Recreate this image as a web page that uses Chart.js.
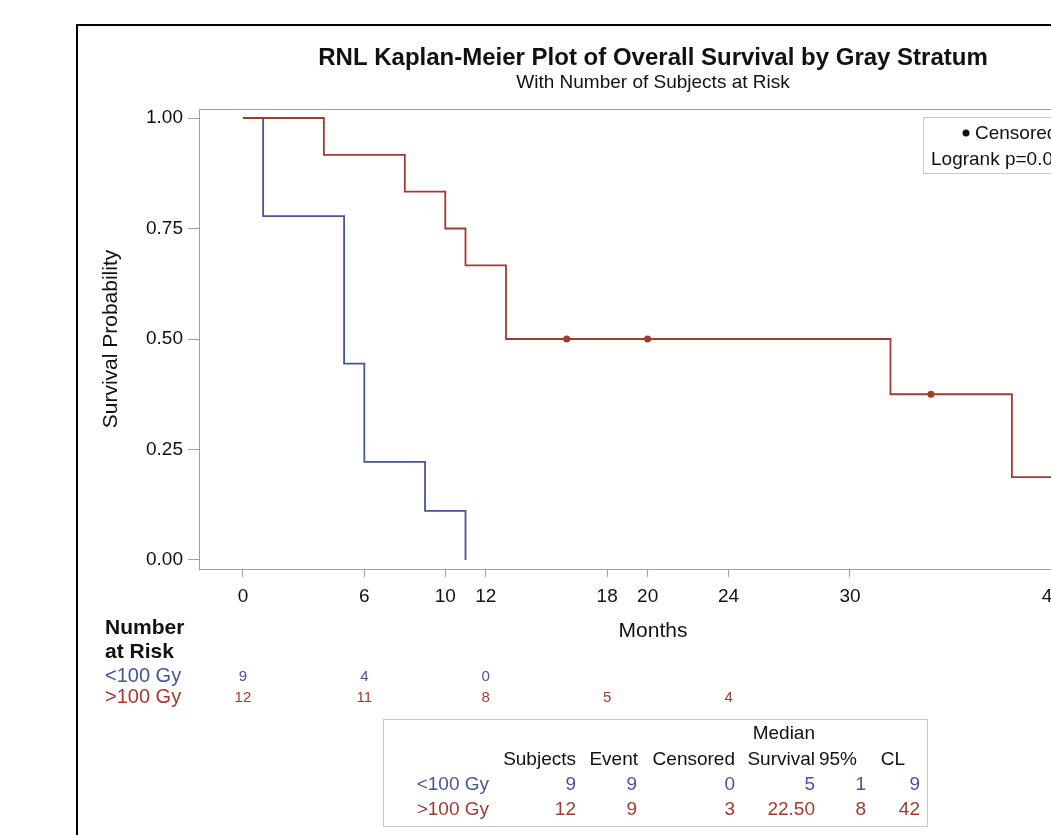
<!DOCTYPE html>
<html><head><meta charset="utf-8">
<script src="https://cdn.jsdelivr.net/npm/chart.js@4.4.0/dist/chart.umd.min.js"></script>
<style>
html,body{margin:0;padding:0;background:#fff;overflow:hidden;width:1051px;height:835px;}
#wrap{position:absolute;left:0;top:0;width:1240px;height:835px;}
</style></head><body>
<div id="wrap"><canvas id="c" width="1240" height="835"></canvas></div>
<script>
// ---- data ----
const groups = ['<100 Gy', '>100 Gy'];
const lowTimes = [0, 1, 5, 6, 9, 11];
const lowSurv = [1, 0.7778, 0.4444, 0.2222, 0.1111, 0];
const highTimes = [0, 4, 8, 10, 11, 13, 32, 38, 42];
const highSurv = [1, 0.9167, 0.8333, 0.75, 0.6667, 0.5, 0.375, 0.1875, 0];
const highCensorTimes = [16, 20, 34];
const highCensorSurv = [0.5, 0.5, 0.375];
const xTicks = [0, 6, 10, 12, 18, 20, 24, 30, 40];
const yTicks = [0, 0.25, 0.5, 0.75, 1];
const riskTimes = [0, 6, 12, 18, 24];
const riskLow = [9, 4, 0, null, null];
const riskHigh = [12, 11, 8, 5, 4];
const tableHeaders = ['Subjects', 'Event', 'Censored', 'Survival', '95%', 'CL'];
const tableLow = ['9', '9', '0', '5', '1', '9'];
const tableHigh = ['12', '9', '3', '22.50', '8', '42'];
const titleText = 'RNL Kaplan-Meier Plot of Overall Survival by Gray Stratum';
const subtitleText = 'With Number of Subjects at Risk';
const pValueText = 'Logrank p=0.0003';

const BLUE = '#445694';
const RED = '#A23A2E';
const FONT = '"Liberation Sans", Arial, Helvetica, sans-serif';
Chart.defaults.font.family = FONT;

const pts = (xs, ys) => xs.map((x, i) => ({x: x, y: ys[i]}));

const decor = {
  id: 'decor',
  afterDraw(chart) {
    const ctx = chart.ctx;
    const a = chart.chartArea;
    const xs = chart.scales.x;
    ctx.save();
    // outer frame
    ctx.strokeStyle = '#000';
    ctx.lineWidth = 2;
    ctx.strokeRect(77, 25, 2000, 2000);
    // plot frame (top, right)
    ctx.strokeStyle = '#a0a0a0';
    ctx.lineWidth = 1;
    ctx.beginPath();
    ctx.moveTo(a.left, a.top + 0.5); ctx.lineTo(a.right, a.top + 0.5);
    ctx.moveTo(a.right - 0.5, a.top); ctx.lineTo(a.right - 0.5, a.bottom);
    ctx.stroke();
    // titles
    const cx = (a.left + a.right) / 2;
    ctx.fillStyle = '#111';
    ctx.textAlign = 'center';
    ctx.textBaseline = 'middle';
    ctx.font = 'bold 24px ' + FONT;
    ctx.fillText(titleText, cx, 58);
    ctx.font = '19px ' + FONT;
    ctx.fillText(subtitleText, cx, 83);
    // legend box
    ctx.strokeStyle = '#c8c8c8';
    ctx.strokeRect(923.5, 117.5, 200, 56);
    ctx.fillStyle = '#111';
    ctx.beginPath(); ctx.arc(966, 133, 3.5, 0, Math.PI * 2); ctx.fill();
    ctx.textAlign = 'left';
    ctx.font = '19px ' + FONT;
    ctx.fillText('Censored', 975, 134);
    ctx.fillText(pValueText, 931, 160);
    // number at risk
    ctx.font = 'bold 21px ' + FONT;
    ctx.fillText('Number', 105, 628);
    ctx.fillText('at Risk', 105, 652);
    ctx.font = '20px ' + FONT;
    ctx.fillStyle = BLUE; ctx.fillText(groups[0], 105, 676);
    ctx.fillStyle = RED; ctx.fillText(groups[1], 105, 697);
    ctx.font = '15px ' + FONT;
    ctx.textAlign = 'center';
    riskTimes.forEach((t, i) => {
      const px = xs.getPixelForValue(t);
      if (riskLow[i] !== null) { ctx.fillStyle = BLUE; ctx.fillText(String(riskLow[i]), px, 677); }
      if (riskHigh[i] !== null) { ctx.fillStyle = RED; ctx.fillText(String(riskHigh[i]), px, 698); }
    });
    // stats table
    ctx.strokeStyle = '#c8c8c8';
    ctx.strokeRect(383.5, 719.5, 544, 107);
    ctx.font = '19px ' + FONT;
    ctx.textAlign = 'right';
    ctx.fillStyle = '#111';
    const hdrRight = [576, 638, 735, 815, 857, 905];
    const valRight = [576, 637, 735, 815, 866, 920];
    ctx.fillText('Median', 815, 734);
    tableHeaders.forEach((h, i) => ctx.fillText(h, hdrRight[i], 760));
    ctx.fillStyle = BLUE;
    ctx.fillText(groups[0], 489, 785);
    tableLow.forEach((v, i) => ctx.fillText(v, valRight[i], 785));
    ctx.fillStyle = RED;
    ctx.fillText(groups[1], 489, 810);
    tableHigh.forEach((v, i) => ctx.fillText(v, valRight[i], 810));
    ctx.restore();
  }
};

new Chart(document.getElementById('c'), {
  type: 'line',
  data: {
    datasets: [
      {label: groups[0], data: pts(lowTimes, lowSurv), stepped: 'before', borderColor: BLUE, borderWidth: 1.8, pointRadius: 0, fill: false, order: 2},
      {label: groups[1], data: pts(highTimes, highSurv), stepped: 'before', borderColor: RED, borderWidth: 1.8, pointRadius: 0, fill: false, order: 1},
      {label: 'Censored', data: pts(highCensorTimes, highCensorSurv), showLine: false, pointRadius: 3.5, pointBackgroundColor: RED, pointBorderWidth: 0, borderColor: RED, order: 0}
    ]
  },
  options: {
    responsive: false,
    animation: false,
    devicePixelRatio: 1,
    layout: {padding: {left: 95, top: 109, right: 133, bottom: 0}},
    plugins: {legend: {display: false}, tooltip: {enabled: false}, title: {display: false}},
    scales: {
      x: {
        type: 'linear', min: -2.17, max: 42.7,
        afterBuildTicks: s => { s.ticks = xTicks.map(v => ({value: v})); },
        afterFit: s => { s.height = 266; },
        ticks: {autoSkip: false, maxRotation: 0, padding: 8, color: '#111', font: {size: 19}, callback: v => String(v)},
        grid: {drawOnChartArea: false, drawTicks: true, tickLength: 8, color: '#a0a0a0'},
        border: {display: true, color: '#a0a0a0', width: 1},
        title: {display: true, text: 'Months', color: '#111', font: {size: 21}, padding: {top: 0, bottom: 191}}
      },
      y: {
        type: 'linear', min: -0.0204, max: 1.0204,
        afterBuildTicks: s => { s.ticks = yTicks.map(v => ({value: v})); },
        afterFit: s => { s.width = 104; },
        ticks: {padding: 5, color: '#111', font: {size: 19}, callback: v => Number(v).toFixed(2)},
        grid: {drawOnChartArea: false, drawTicks: true, tickLength: 11, color: '#a0a0a0'},
        border: {display: true, color: '#a0a0a0', width: 1},
        title: {display: true, text: 'Survival Probability', color: '#111', font: {size: 21}, padding: {top: 4, bottom: 0}}
      }
    }
  },
  plugins: [decor]
});
</script>
</body></html>
